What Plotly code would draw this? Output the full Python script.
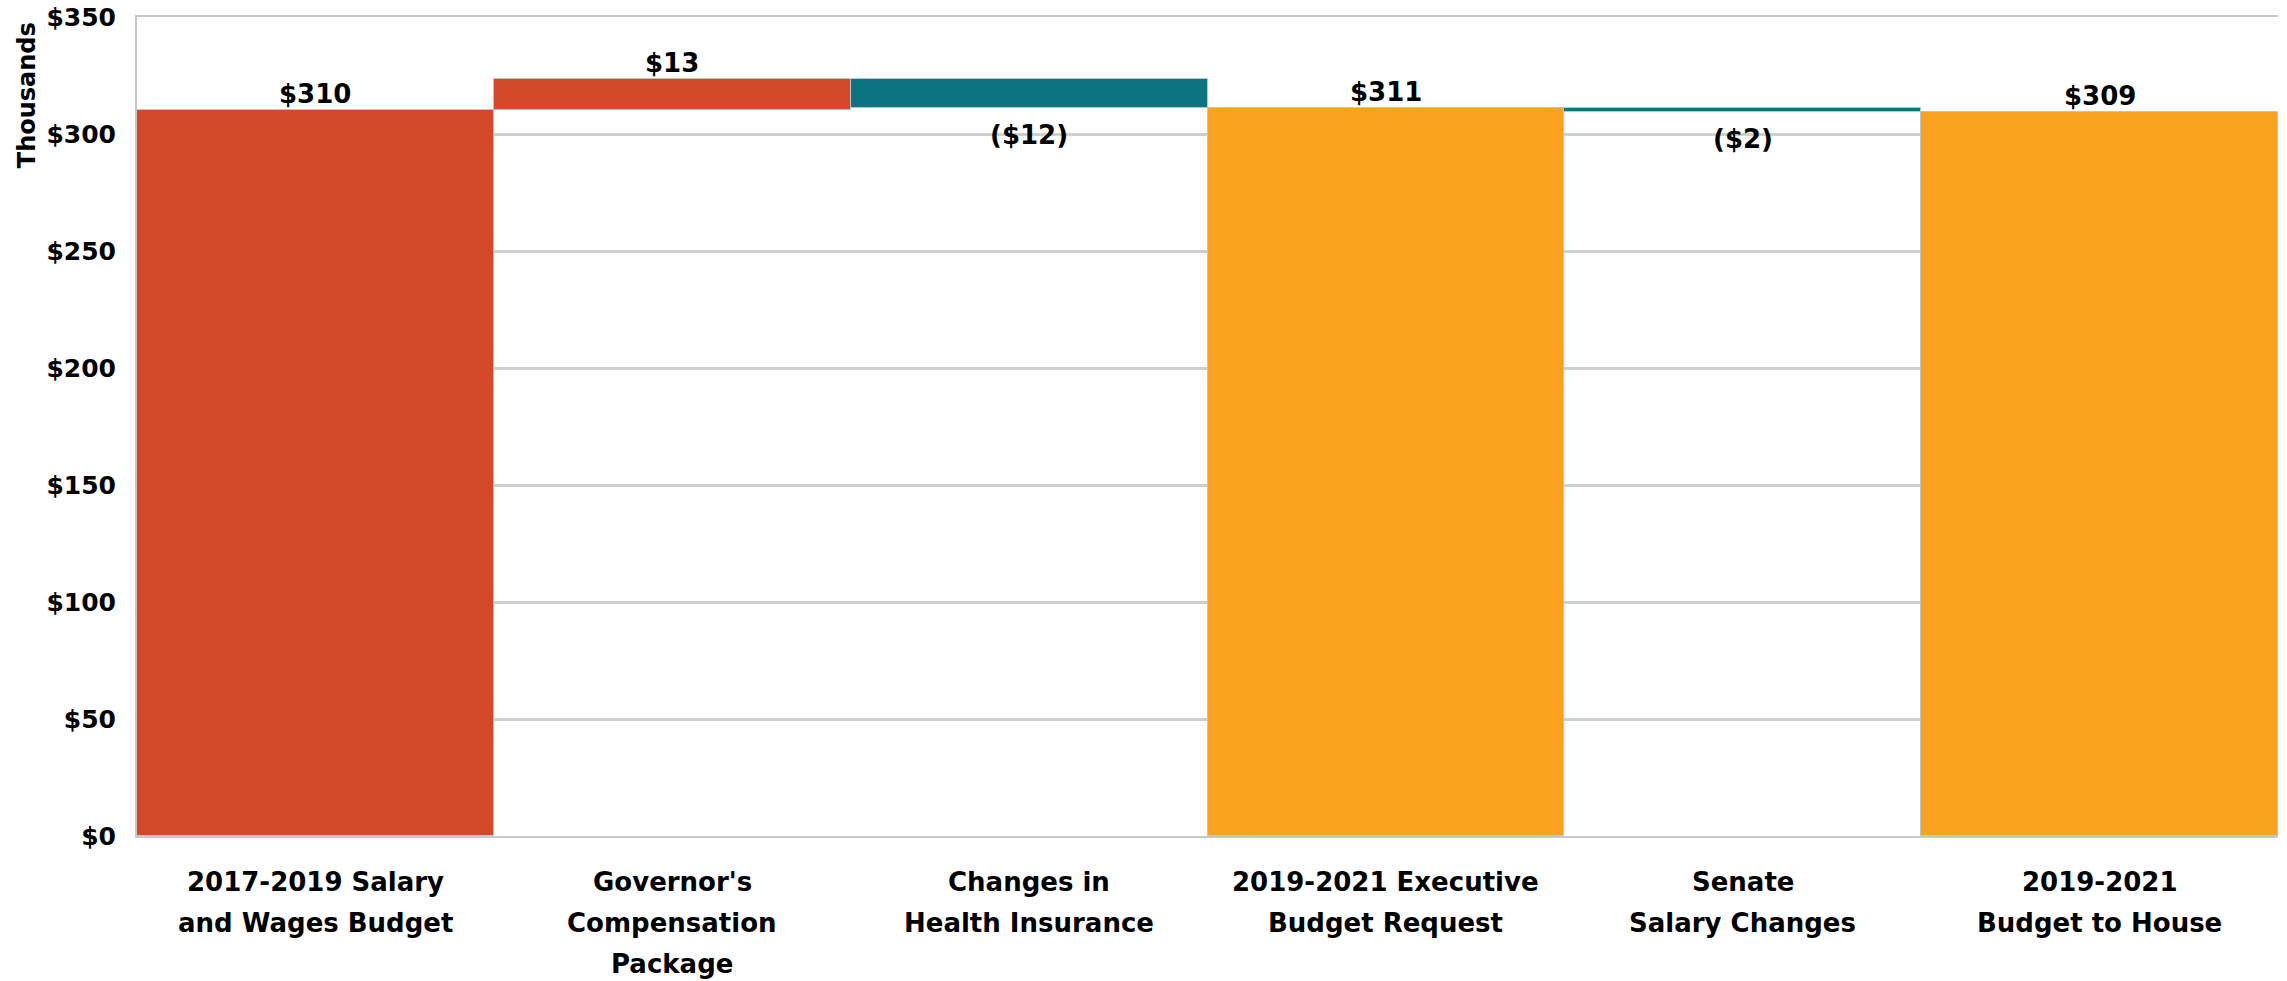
import plotly.graph_objects as go

categories = [
    "2017-2019 Salary<br>and Wages Budget",
    "Governor's<br>Compensation<br>Package",
    "Changes in<br>Health Insurance",
    "2019-2021 Executive<br>Budget Request",
    "Senate<br>Salary Changes",
    "2019-2021<br>Budget to House",
]
measures = ["absolute", "relative", "relative", "total", "relative", "total"]
values = [310.3, 13.1, -12.4, 0, -1.8, 0]
labels = ["$310", "$13", "($12)", "$311", "($2)", "$309"]
colors = ["#D34927", "#D34927", "#0B7480", "#F9A21F", "#0B7480", "#F9A21F"]
tick_vals = [0, 50, 100, 150, 200, 250, 300, 350]
tick_text = ["$0", "$50", "$100", "$150", "$200", "$250", "$300", "$350"]

# compute waterfall geometry from the values
running = 0.0
bases, heights = [], []
for m, v in zip(measures, values):
    if m == "absolute":
        bases.append(0)
        heights.append(v)
        running = v
    elif m == "relative":
        bases.append(running)
        heights.append(v)
        running += v
    else:
        bases.append(0)
        heights.append(running)

FONT = "DejaVu Sans"
lbl_font = dict(family=FONT, size=26, color="#000000", weight="bold")
cat_font = dict(family=FONT, size=26, color="#000000", weight="bold")

fig = go.Figure()
fig.add_trace(go.Bar(
    x=categories, y=heights, base=bases,
    marker=dict(color=colors, line=dict(color="#C4C4C4", width=1)),
    hoverinfo="skip",
))

# value labels
for c, b, h, t in zip(categories, bases, heights, labels):
    if h >= 0:
        fig.add_annotation(x=c, y=b + h, text=t, showarrow=False,
                           yanchor="bottom", yshift=-1, font=lbl_font)
    else:
        fig.add_annotation(x=c, y=b + h, text=t, showarrow=False,
                           yanchor="top", yshift=-10, font=lbl_font)

# category labels, one line at a time for wider line spacing
LINE = 41
for c in categories:
    for i, line in enumerate(c.split("<br>")):
        fig.add_annotation(x=c, xref="x", yref="paper", y=0, yanchor="middle",
                           yshift=-46 - i * LINE, text=line, showarrow=False, font=cat_font)

fig.add_annotation(xref="paper", yref="paper", x=-0.0514, y=0.996, xanchor="center", yanchor="top",
                   text="Thousands", textangle=-90, showarrow=False,
                   font=dict(family=FONT, size=24, color="#000000", weight="bold"))

fig.update_layout(
    width=2287, height=981,
    margin=dict(l=137, r=9, t=17, b=145),
    paper_bgcolor="white", plot_bgcolor="white",
    bargap=0, showlegend=False,
    font=dict(family=FONT, color="#000000"),
)
fig.update_xaxes(
    showline=True, linecolor="#C8C8C8", linewidth=2, mirror=True,
    showticklabels=False, ticks="", showgrid=False, automargin=False,
)
fig.update_yaxes(
    range=[0, 350], tickvals=tick_vals, ticktext=tick_text,
    showgrid=True, gridcolor="#CFCFCF", gridwidth=2.5,
    showline=True, linecolor="#C8C8C8", linewidth=2,
    zeroline=False, ticks="", ticklabelstandoff=14, ticklabeloverflow="allow",
    automargin=False, tickfont=dict(family=FONT, size=25, color="#000000", weight="bold"),
)

# remove the page's default body margin so the figure fills the window exactly
fig.write_html("out.html",
               config={"displayModeBar": False},
               post_script="document.body.style.margin='0';document.body.style.overflow='hidden';")
